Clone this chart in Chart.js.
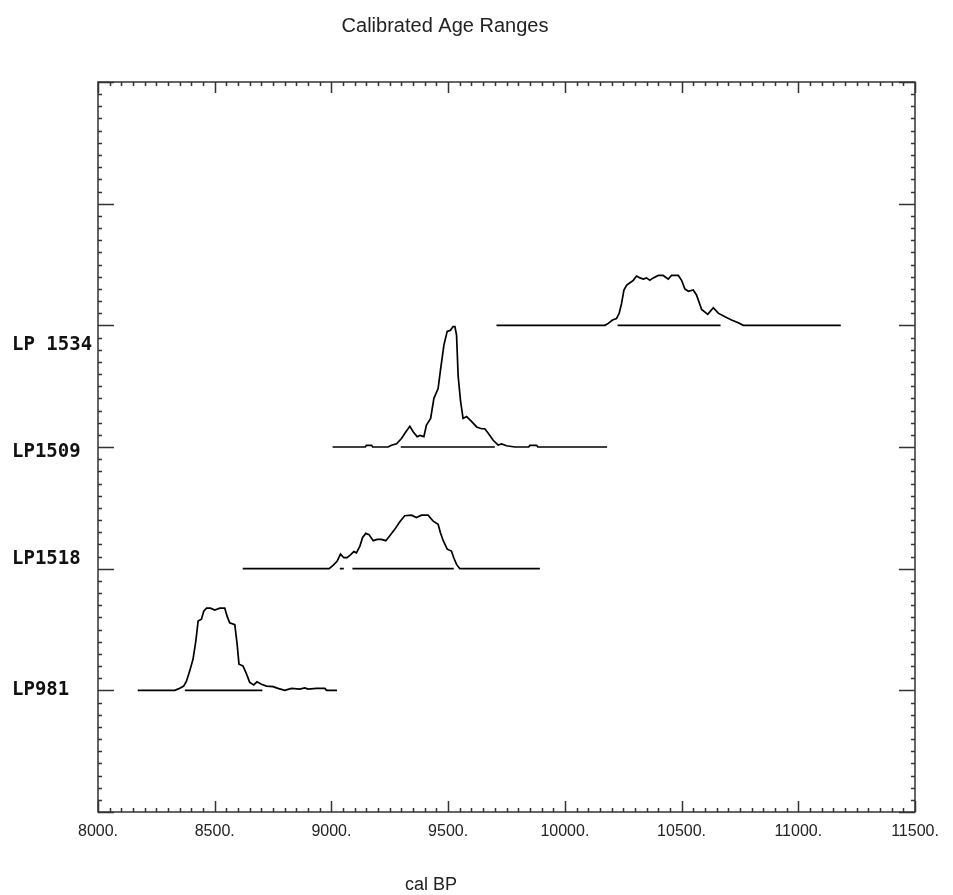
<!DOCTYPE html>
<html>
<head>
<meta charset="utf-8">
<script src="https://cdn.jsdelivr.net/npm/chart.js@4/dist/chart.umd.min.js"></script>
<style>
  body { margin: 0; background: #fff; }
  #wrap { width: 953px; height: 895px; }
</style>
</head>
<body>
<div id="wrap"><canvas id="ageChart"></canvas></div>
<script>
// sample names, bottom to top, and where each name sits on the y axis
const samples = ['LP981', 'LP1518', 'LP1509', 'LP 1534'];
const samplePos = [1, 2, 3, 4];
const labelPos = [1.0, 2.08, 2.96, 3.84];

// calibrated probability curves (cal BP, height above the sample's line)
const x981 = [8170, 8329, 8347, 8367, 8379, 8393, 8407, 8419, 8429, 8443, 8453, 8465, 8482, 8500, 8522, 8543, 8553, 8564, 8586, 8596, 8604, 8621, 8636, 8650, 8667, 8681, 8700, 8722, 8750, 8771, 8800, 8829, 8864, 8886, 8900, 8936, 8972, 8979, 9024];
const h981 = [0, 0, .014, .035, .075, .16, .255, .405, .57, .585, .65, .675, .675, .66, .675, .675, .61, .555, .54, .38, .215, .20, .135, .065, .045, .07, .05, .035, .03, .016, 0, .016, .01, .02, .01, .016, .016, 0, 0];

const x1518 = [8620, 8990, 9007, 9024, 9039, 9053, 9067, 9079, 9096, 9107, 9122, 9133, 9147, 9161, 9179, 9196, 9214, 9233, 9250, 9272, 9293, 9314, 9343, 9364, 9386, 9414, 9436, 9457, 9467, 9479, 9496, 9514, 9524, 9536, 9550, 9893];
const h1518 = [0, 0, .027, .06, .12, .09, .09, .11, .14, .13, .185, .255, .29, .28, .23, .24, .24, .23, .27, .325, .385, .435, .44, .42, .44, .44, .39, .365, .295, .23, .16, .145, .09, .035, 0, 0];

const x1509 = [9005, 9145, 9150, 9172, 9177, 9243, 9257, 9279, 9300, 9319, 9336, 9350, 9367, 9379, 9396, 9407, 9425, 9439, 9457, 9467, 9482, 9496, 9510, 9521, 9529, 9536, 9543, 9553, 9564, 9579, 9600, 9622, 9643, 9657, 9671, 9693, 9714, 9729, 9750, 9786, 9845, 9850, 9879, 9884, 10181];
const h1509 = [0, 0, .014, .014, 0, 0, .014, .027, .07, .125, .17, .125, .085, .095, .085, .18, .235, .40, .48, .63, .84, .95, .96, .99, .99, .92, .58, .38, .235, .25, .21, .165, .15, .15, .115, .055, .016, .025, .01, 0, 0, .014, .014, 0, 0];

const x1534 = [9707, 10172, 10186, 10204, 10221, 10233, 10243, 10253, 10265, 10279, 10293, 10307, 10322, 10336, 10350, 10364, 10379, 10400, 10421, 10443, 10457, 10486, 10500, 10514, 10529, 10550, 10564, 10586, 10612, 10636, 10657, 10686, 10714, 10743, 10764, 11182];
const h1534 = [0, 0, .016, .044, .055, .10, .18, .29, .33, .35, .37, .405, .39, .38, .39, .37, .39, .41, .41, .38, .41, .41, .37, .30, .28, .29, .25, .13, .09, .145, .10, .07, .044, .022, 0, 0];

// 2 sigma ranges drawn on each sample's line
const range981 = [[8372, 8704]];
const range1518 = [[9036, 9053], [9090, 9524]];
const range1509 = [[9297, 9700]];
const range1534 = [[10226, 10667]];

const xMin = 8000, xMax = 11500, xStep = 500;
const yMin = 0, yMax = 6;

const curves = [[x981, h981], [x1518, h1518], [x1509, h1509], [x1534, h1534]];
const ranges = [range981, range1518, range1509, range1534];

const datasets = [];
curves.forEach(function (c, i) {
    datasets.push({
        label: samples[i],
        data: c[0].map((v, j) => ({ x: v, y: samplePos[i] + c[1][j] })),
        borderColor: '#000',
        borderWidth: 1.7
    });
    const pts = [];
    ranges[i].forEach(function (r) {
        pts.push({ x: r[0], y: samplePos[i] }, { x: r[1], y: samplePos[i] }, { x: r[1] + 1, y: null });
    });
    datasets.push({
        label: samples[i] + ' range',
        data: pts,
        borderColor: '#000',
        borderWidth: 1.7
    });
});

// box round the plot with inward major / minor ticks on all four sides
const frame = {
    id: 'frame',
    afterDraw(chart) {
        const { ctx, chartArea: a, scales: { x, y } } = chart;
        ctx.save();
        ctx.strokeStyle = '#333';
        ctx.lineWidth = 1.5;
        ctx.strokeRect(a.left, a.top, a.right - a.left, a.bottom - a.top);
        ctx.beginPath();
        for (let v = xMin; v <= xMax; v += 50) {
            const px = Math.round(x.getPixelForValue(v)) + 0.5;
            const len = v % xStep === 0 ? 11 : 4;
            ctx.moveTo(px, a.bottom); ctx.lineTo(px, a.bottom - len);
            ctx.moveTo(px, a.top); ctx.lineTo(px, a.top + len);
        }
        for (let i = yMin * 10; i <= yMax * 10; i++) {
            const py = Math.round(y.getPixelForValue(i / 10)) + 0.5;
            const len = i % 10 === 0 ? 16 : 4;
            ctx.moveTo(a.left, py); ctx.lineTo(a.left + len, py);
            ctx.moveTo(a.right, py); ctx.lineTo(a.right - len, py);
        }
        ctx.stroke();

        ctx.fillStyle = '#222';
        ctx.textAlign = 'center';
        ctx.textBaseline = 'middle';
        ctx.font = '20px "Liberation Sans", Arial, sans-serif';
        ctx.fillText('Calibrated Age Ranges', 445, 26);
        ctx.font = '18px "Liberation Sans", Arial, sans-serif';
        ctx.fillText('cal BP', 431, 885);
        ctx.restore();
    }
};

const ctx = document.getElementById('ageChart').getContext('2d');
const chart = new Chart(ctx, {
    type: 'line',
    data: { datasets: datasets },
    options: {
        responsive: true,
        maintainAspectRatio: false,
        animation: false,
        layout: { padding: { left: 12, top: 82, right: 38, bottom: 0 } },
        elements: { point: { radius: 0 }, line: { tension: 0 } },
        plugins: { legend: { display: false }, tooltip: { enabled: false } },
        scales: {
            x: {
                type: 'linear',
                min: xMin,
                max: xMax,
                grid: { display: false, drawTicks: false },
                border: { display: false },
                ticks: {
                    stepSize: xStep,
                    autoSkip: false,
                    maxRotation: 0,
                    padding: 10,
                    color: '#222',
                    font: { family: '"Liberation Sans", Arial, sans-serif', size: 16 },
                    callback: (v) => v + '.'
                },
                afterFit: (scale) => { scale.height = 83; }
            },
            y: {
                type: 'linear',
                min: yMin,
                max: yMax,
                grid: { display: false, drawTicks: false },
                border: { display: false },
                afterBuildTicks: (scale) => {
                    scale.ticks = labelPos.map((v) => ({ value: v }));
                },
                ticks: {
                    crossAlign: 'far',
                    padding: 0,
                    color: '#111',
                    font: { family: '"DejaVu Sans Mono", monospace', size: 19, weight: 'bold' },
                    callback: (v, i) => samples[i]
                },
                afterFit: (scale) => { scale.width = 86; }
            }
        }
    },
    plugins: [frame]
});
</script>
</body>
</html>
